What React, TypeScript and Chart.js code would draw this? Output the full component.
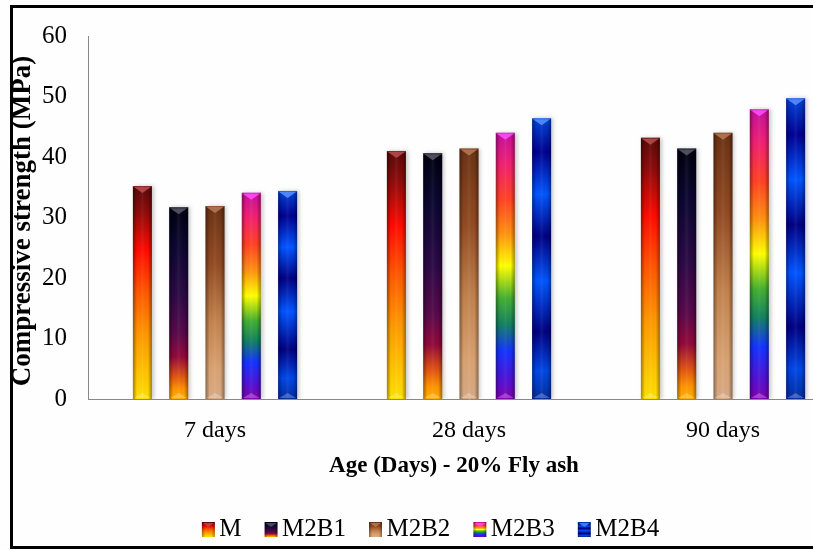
import React, { useEffect, useRef } from 'react';
import { Chart, registerables } from 'chart.js';

Chart.register(...registerables);

// ---------- data ----------
const categories = ['7 days', '28 days', '90 days'];
const seriesNames = ['M', 'M2B1', 'M2B2', 'M2B3', 'M2B4'];
const mValues = [35.2, 41.0, 43.2];
const m2b1Values = [31.7, 40.6, 41.4];
const m2b2Values = [31.9, 41.4, 44.0];
const m2b3Values = [34.1, 44.0, 47.9];
const m2b4Values = [34.4, 46.4, 49.7];
const yTicks = [0, 10, 20, 30, 40, 50, 60];
const xTitle = 'Age (Days) - 20% Fly ash';
const yTitle = 'Compressive strength (MPa)';

// ---------- styles ----------
const FONT = "'Liberation Serif', 'Times New Roman', serif";
const seriesValues = [mValues, m2b1Values, m2b2Values, m2b3Values, m2b4Values];

const gradientStops: [number, string][][] = [
  // M - fire
  [[0, '#5a0808'], [0.12, '#8c0a0a'], [0.3, '#ff0a00'], [0.5, '#ff5800'], [0.7, '#ff9800'], [0.88, '#ffc400'], [1, '#ffe000']],
  // M2B1 - late sunset
  [[0, '#00000e'], [0.2, '#0a0630'], [0.45, '#2a0844'], [0.65, '#55084a'], [0.78, '#92083a'], [0.88, '#e05212'], [0.95, '#ff9400'], [1, '#ffb000']],
  // M2B2 - mahogany / tan
  [[0, '#6a3214'], [0.3, '#924a22'], [0.6, '#c3834e'], [0.85, '#d9a272'], [1, '#d8aa84']],
  // M2B3 - rainbow
  [[0, '#c2109c'], [0.12, '#f22070'], [0.25, '#ff4222'], [0.38, '#ff9210'], [0.5, '#ffff00'], [0.62, '#44b030'], [0.72, '#128062'], [0.82, '#1232ff'], [0.93, '#5210d2'], [1, '#8000b0']],
  // M2B4 - sapphire bands
  [[0, '#0044d8'], [0.12, '#000090'], [0.27, '#0054ff'], [0.42, '#000082'], [0.58, '#0054ff'], [0.76, '#000080'], [0.9, '#0046e6'], [1, '#002c9c']],
];
const solidColors = ['#ff3000', '#2a0844', '#a05a30', '#ff9210', '#0040e0'];
const bevelColors = ['#b85050', '#5a5a6a', '#b87a58', '#ff50ff', '#5a90ff'];

function makeMarker(i: number): HTMLCanvasElement {
  const c = document.createElement('canvas');
  c.width = 30;
  c.height = 15;
  const g = c.getContext('2d')!;
  const x0 = 11, w = 13, h = 15;
  const grad = g.createLinearGradient(0, 0, 0, h);
  gradientStops[i].forEach(([o, col]) => grad.addColorStop(o, col));
  g.fillStyle = grad;
  g.fillRect(x0, 0, w, h);
  const side = g.createLinearGradient(x0, 0, x0 + w, 0);
  side.addColorStop(0, 'rgba(0,0,0,0.35)');
  side.addColorStop(0.25, 'rgba(0,0,0,0)');
  side.addColorStop(0.75, 'rgba(0,0,0,0)');
  side.addColorStop(1, 'rgba(0,0,0,0.35)');
  g.fillStyle = side;
  g.fillRect(x0, 0, w, h);
  g.fillStyle = bevelColors[i];
  g.globalAlpha = 0.8;
  g.beginPath();
  g.moveTo(x0 + 1, 1);
  g.lineTo(x0 + w - 1, 1);
  g.lineTo(x0 + w / 2, 5);
  g.closePath();
  g.fill();
  return c;
}

const framePlugin = {
  id: 'frameAndTitles',
  beforeDraw(chart: any) {
    const ctx = chart.ctx;
    ctx.save();
    ctx.fillStyle = '#fefefe';
    ctx.fillRect(0, 0, chart.width, chart.height);
    ctx.restore();
  },
  beforeDatasetsDraw(chart: any) {
    const ctx = chart.ctx;
    ctx.save();
    ctx.shadowColor = 'rgba(0,0,0,0.22)';
    ctx.shadowBlur = 4;
    ctx.shadowOffsetX = 2;
    ctx.shadowOffsetY = 0;
  },
  afterDatasetsDraw(chart: any) {
    const ctx = chart.ctx;
    ctx.restore();
    ctx.save();
    chart.data.datasets.forEach((_: any, di: number) => {
      const meta = chart.getDatasetMeta(di);
      meta.data.forEach((el: any) => {
        const { x, y, base, width } = el.getProps(['x', 'y', 'base', 'width'], true);
        const left = x - width / 2;
        const h = base - y;
        const side = ctx.createLinearGradient(left, 0, left + width, 0);
        side.addColorStop(0, 'rgba(0,0,0,0.38)');
        side.addColorStop(0.22, 'rgba(0,0,0,0)');
        side.addColorStop(0.5, 'rgba(255,255,255,0.06)');
        side.addColorStop(0.78, 'rgba(0,0,0,0)');
        side.addColorStop(1, 'rgba(0,0,0,0.38)');
        ctx.fillStyle = side;
        ctx.fillRect(left, y, width, h);
        // top bevel triangle
        ctx.globalAlpha = 0.85;
        ctx.fillStyle = bevelColors[di];
        ctx.beginPath();
        ctx.moveTo(left + 1, y + 1);
        ctx.lineTo(left + width - 1, y + 1);
        ctx.lineTo(x, y + 7);
        ctx.closePath();
        ctx.fill();
        ctx.globalAlpha = 0.5;
        ctx.fillRect(left, y, width, 1);
        // bottom bevel
        ctx.globalAlpha = 0.25;
        ctx.fillStyle = '#ffffff';
        ctx.beginPath();
        ctx.moveTo(left + 1, base - 1);
        ctx.lineTo(left + width - 1, base - 1);
        ctx.lineTo(x, base - 6);
        ctx.closePath();
        ctx.fill();
        ctx.globalAlpha = 1;
      });
    });
    ctx.restore();
  },
  afterDraw(chart: any) {
    const ctx = chart.ctx;
    ctx.save();
    // frame (right side is cropped away in the reference)
    ctx.fillStyle = '#000';
    ctx.fillRect(10, 5, chart.width, 3);
    ctx.fillRect(10, 5, 3, 544);
    ctx.fillRect(10, 546, chart.width, 3);
    // axis titles
    ctx.fillStyle = '#000';
    ctx.font = `bold 23px ${FONT}`;
    ctx.textAlign = 'center';
    ctx.textBaseline = 'alphabetic';
    ctx.fillText(xTitle, 454, 472);
    ctx.translate(30, 221);
    ctx.rotate(-Math.PI / 2);
    ctx.font = `bold 27px ${FONT}`;
    ctx.fillText(yTitle, 0, 0);
    ctx.restore();
  },
};

export default function App() {
  const ref = useRef<HTMLCanvasElement>(null);

  useEffect(() => {
    const canvas = ref.current;
    if (!canvas) return;
    const markers = seriesNames.map((_, i) => makeMarker(i));

    const datasets = seriesNames.map((name, i) => ({
      label: name,
      data: seriesValues[i],
      backgroundColor: (c: any) => {
        const chart = c.chart;
        const { chartArea, scales } = chart;
        if (!chartArea || c.type !== 'data' || !scales.y) return solidColors[i];
        const v = c.raw as number;
        const top = scales.y.getPixelForValue(v);
        const bottom = scales.y.getPixelForValue(0);
        const g = chart.ctx.createLinearGradient(0, top, 0, bottom);
        gradientStops[i].forEach(([o, col]) => g.addColorStop(o, col));
        return g;
      },
      borderWidth: 0,
      categoryPercentage: 0.7146,
      barPercentage: 0.523,
    }));

    const chart = new Chart(canvas, {
      type: 'bar',
      data: { labels: categories, datasets },
      options: {
        responsive: false,
        animation: false,
        devicePixelRatio: 1,
        layout: { padding: { left: 14, right: 20, top: 15, bottom: 0 } },
        plugins: {
          tooltip: { enabled: false },
          title: { display: false },
          legend: {
            position: 'bottom',
            align: 'center',
            labels: {
              usePointStyle: true,
              boxWidth: 2,
              boxHeight: 25,
              padding: 26,
              color: '#000',
              font: { family: FONT, size: 25 },
              generateLabels: () =>
                seriesNames.map((name, i) => ({
                  text: name,
                  fillStyle: solidColors[i],
                  strokeStyle: 'rgba(0,0,0,0)',
                  lineWidth: 0,
                  pointStyle: markers[i],
                  hidden: false,
                  datasetIndex: i,
                  fontColor: '#000',
                })),
            },
          },
        },
        scales: {
          x: {
            type: 'category',
            offset: true,
            grid: { display: false, drawTicks: false },
            border: { display: true, color: '#888888', width: 1 },
            ticks: {
              color: '#000',
              font: { family: FONT, size: 24 },
              padding: 17,
              maxRotation: 0,
              autoSkip: false,
            },
            afterFit: (s: any) => {
              s.height = 92;
            },
          },
          y: {
            min: 0,
            max: 60,
            grid: { display: false, drawTicks: false },
            border: { display: true, color: '#888888', width: 1 },
            ticks: {
              color: '#000',
              font: { family: FONT, size: 25 },
              padding: 21,
            },
            afterBuildTicks: (s: any) => {
              s.ticks = yTicks.map((v) => ({ value: v }));
            },
            afterFit: (s: any) => {
              s.width = 74;
            },
          },
        },
      },
      plugins: [framePlugin],
    } as any);

    return () => chart.destroy();
  }, []);

  return (
    <div
      style={{
        position: 'fixed',
        left: 0,
        top: 0,
        width: 813,
        height: 550,
        overflow: 'hidden',
        background: '#fff',
      }}
    >
      <canvas ref={ref} width={870} height={552} style={{ display: 'block', width: 870, height: 552, maxWidth: 'none' }} />
    </div>
  );
}
